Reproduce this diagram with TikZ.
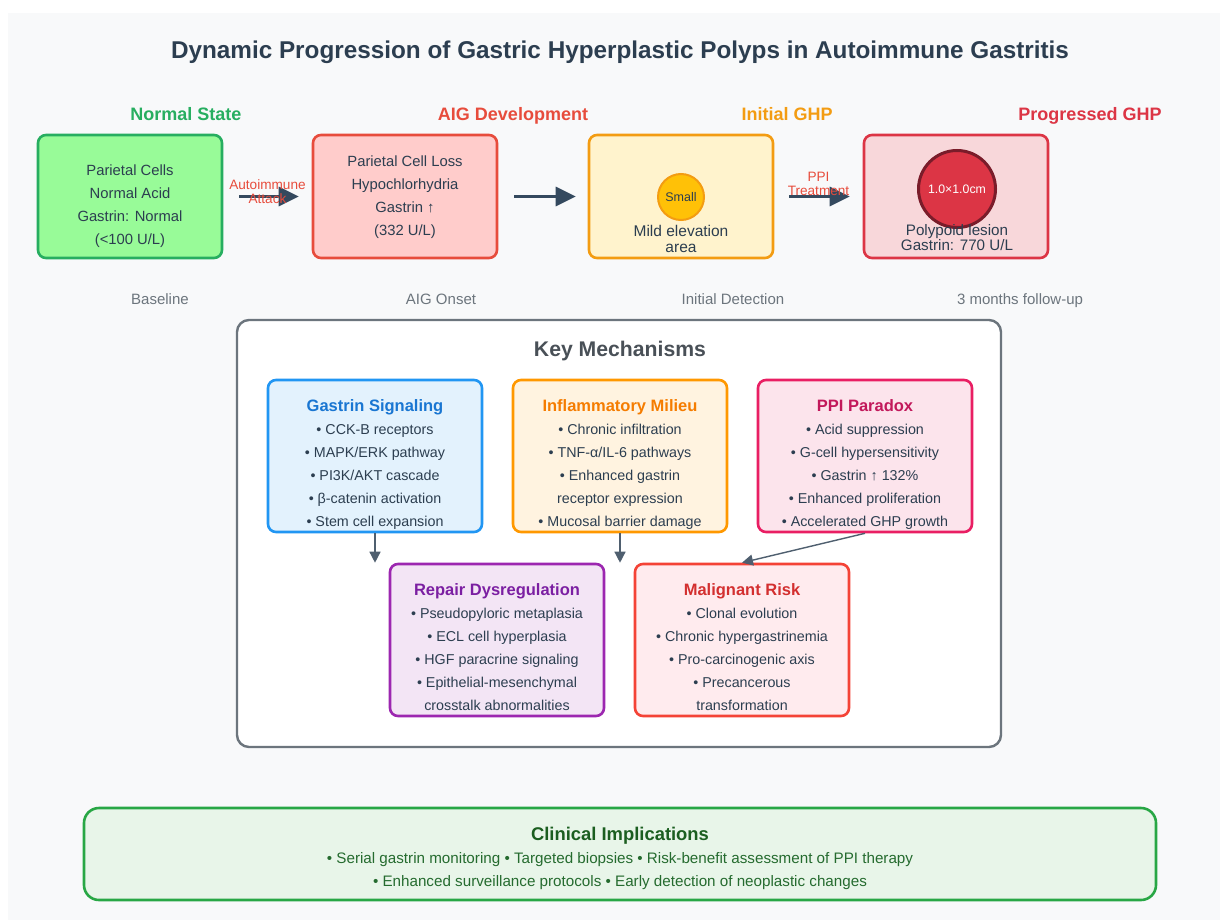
\documentclass[tikz,border=0pt]{standalone}
\usepackage{fontspec}
\setmainfont{Liberation Sans}
\usetikzlibrary{arrows.meta,positioning}

\newcommand{\mechtitlefont}{\fontsize{16.5}{23}\selectfont\bfseries}

\begin{document}
\begin{tikzpicture}[x=1pt,y=-1pt,
    stagebox/.style={draw, rounded corners=8pt, line width=2.6pt, minimum width=184pt, minimum height=123pt},
    stagehead/.style={anchor=base, font=\fontsize{18}{20}\selectfont\bfseries},
    stagetext/.style={align=center, text=textdark, font=\fontsize{14.8}{23}\selectfont},
    stagesub/.style={anchor=base, text=subgray, font=\fontsize{15}{17}\selectfont},
    stagearrow/.style={draw=arrowdark, line width=3pt, -{Triangle[length=20pt,width=19pt]}},
    arrowlabel/.style={align=center, text=labelred, font=\fontsize{13.6}{14}\selectfont},
    mechbox/.style={draw, rounded corners=8pt, line width=2.6pt, minimum width=214pt, minimum height=152pt},
    mechtext/.style={align=center, text=textdark, font=\fontsize{14.3}{23}\selectfont},
    mecharrow/.style={draw=arrowgray, line width=1.4pt, -{Triangle[length=11pt,width=11pt]}}
  ]
    % Define colors
    \definecolor{bggray}{HTML}{F8F9FA}
    \definecolor{textdark}{HTML}{2C3E50}
    \definecolor{subgray}{HTML}{6C757D}
    \definecolor{arrowdark}{HTML}{34495E}
    \definecolor{arrowgray}{HTML}{4F5F6F}
    \definecolor{labelred}{HTML}{E74C3C}
    \definecolor{normalfill}{HTML}{98FB98}
    \definecolor{normalline}{HTML}{27AE60}
    \definecolor{aigfill}{HTML}{FFCCCB}
    \definecolor{aigline}{HTML}{E74C3C}
    \definecolor{initfill}{HTML}{FFF3CD}
    \definecolor{initline}{HTML}{F39C12}
    \definecolor{progfill}{HTML}{F8D7DA}
    \definecolor{progline}{HTML}{DC3545}
    \definecolor{polypdark}{HTML}{7A1C2A}
    \definecolor{polypyellow}{HTML}{FFC107}
    \definecolor{panelline}{HTML}{6C757D}
    \definecolor{paneltitle}{HTML}{495057}
    \definecolor{gsfill}{HTML}{E3F2FD}
    \definecolor{gsline}{HTML}{2196F3}
    \definecolor{gstitle}{HTML}{1976D2}
    \definecolor{inffill}{HTML}{FFF3E0}
    \definecolor{infline}{HTML}{FF9800}
    \definecolor{inftitle}{HTML}{F57C00}
    \definecolor{ppifill}{HTML}{FCE4EC}
    \definecolor{ppiline}{HTML}{E91E63}
    \definecolor{ppititle}{HTML}{C2185B}
    \definecolor{repfill}{HTML}{F3E5F5}
    \definecolor{repline}{HTML}{9C27B0}
    \definecolor{reptitle}{HTML}{7B1FA2}
    \definecolor{malfill}{HTML}{FFEBEE}
    \definecolor{malline}{HTML}{F44336}
    \definecolor{maltitle}{HTML}{D32F2F}
    \definecolor{clinfill}{HTML}{E8F5E9}
    \definecolor{clinline}{HTML}{28A745}
    \definecolor{clintitle}{HTML}{1B5E20}
    \definecolor{clintext}{HTML}{256B2F}

    % Page and background
    \fill[white] (0,0) rectangle (1220,923);
    \fill[bggray] (8,13) rectangle (1220,920);
    \useasboundingbox (0,0) rectangle (1220,923);

    % Title
    \node[text=textdark, font=\fontsize{24.3}{28}\selectfont\bfseries] (title) at (620,52)
      {Dynamic Progression of Gastric Hyperplastic Polyps in Autoimmune Gastritis};

    % Stage headings
    \node[stagehead, text=normalline] (hnormal) at (186,120.5) {Normal State};
    \node[stagehead, text=aigline] (haig) at (513,120.5) {AIG Development};
    \node[stagehead, text=initline] (hinit) at (787,120.5) {Initial GHP};
    \node[stagehead, text=progline] (hprog) at (1090,120.5) {Progressed GHP};

    % Stage boxes
    \node[stagebox, draw=normalline, fill=normalfill] (normal) at (130,196.5) {};
    \node[stagebox, draw=aigline, fill=aigfill] (aig) at (405,196.5) {};
    \node[stagebox, draw=initline, fill=initfill] (init) at (681,196.5) {};
    \node[stagebox, draw=progline, fill=progfill] (prog) at (956,196.5) {};

    \node[stagetext] (normaltxt) at (130,206)
      {Parietal Cells\\Normal Acid\\Gastrin: Normal\\(<100 U/L)};
    \node[stagetext] (aigtxt) at (405,197)
      {Parietal Cell Loss\\Hypochlorhydria\\Gastrin ↑\\(332 U/L)};

    \node[circle, draw=initline, fill=polypyellow, line width=2pt, minimum size=46pt,
          inner sep=0pt, font=\fontsize{12.5}{13}\selectfont, text=textdark] (smallgp) at (681,197) {Small};
    \node[align=center, text=textdark, font=\fontsize{15.5}{16}\selectfont] (inittxt) at (681,238.5)
      {Mild elevation\\area};

    \node[circle, draw=polypdark, fill=progline, line width=3pt, minimum size=77pt,
          inner sep=0pt, font=\fontsize{12.3}{13}\selectfont, text=white] (lesion) at (957,189) {1.0×1.0cm};
    \node[align=center, text=textdark, font=\fontsize{15.2}{15}\selectfont] (progtxt) at (957,238)
      {Polypoid lesion\\Gastrin: 770 U/L};

    % Stage arrows
    \draw[stagearrow, shorten <=16pt, shorten >=13pt] (normal) -- (aig)
      node[midway, arrowlabel, yshift=5pt] (autolbl) {Autoimmune\\Attack};
    \draw[stagearrow, shorten <=16pt, shorten >=12pt] (aig) -- (init);
    \draw[stagearrow, shorten <=15pt, shorten >=13pt] (init) -- (prog)
      node[midway, arrowlabel, yshift=13pt] (ppilbl) {PPI\\Treatment};

    % Time labels
    \node[stagesub] (tbase) at (160,304.5) {Baseline};
    \node[stagesub] (tonset) at (441,304.5) {AIG Onset};
    \node[stagesub] (tdetect) at (733,304.5) {Initial Detection};
    \node[stagesub] (tfollow) at (1020,304.5) {3 months follow-up};

    % Key mechanisms panel
    \node[draw=panelline, fill=white, rounded corners=12pt, line width=2.4pt,
          minimum width=764pt, minimum height=427pt] (panel) at (619,533.5) {};
    \node[text=paneltitle, font=\fontsize{21.2}{24}\selectfont\bfseries] (paneltitle) at (620,351) {Key Mechanisms};

    % Mechanism boxes, top row
    \node[mechbox, draw=gsline, fill=gsfill] (gastrin) at (375,456) {};
    \node[mechbox, draw=infline, fill=inffill] (inflam) at (620,456) {};
    \node[mechbox, draw=ppiline, fill=ppifill] (ppi) at (865,456) {};

    \node[mechtext] (gastrintxt) at (375,464.5)
      {{\mechtitlefont\color{gstitle}Gastrin Signaling}\\• CCK-B receptors\\• MAPK/ERK pathway\\
       • PI3K/AKT cascade\\• β-catenin activation\\• Stem cell expansion};
    \node[mechtext] (inflamtxt) at (620,464.5)
      {{\mechtitlefont\color{inftitle}Inflammatory Milieu}\\• Chronic infiltration\\• TNF-α/IL-6 pathways\\
       • Enhanced gastrin\\receptor expression\\• Mucosal barrier damage};
    \node[mechtext] (ppitxt) at (865,464.5)
      {{\mechtitlefont\color{ppititle}PPI Paradox}\\• Acid suppression\\• G-cell hypersensitivity\\
       • Gastrin ↑ 132\%\\• Enhanced proliferation\\• Accelerated GHP growth};

    % Mechanism boxes, bottom row
    \node[mechbox, draw=repline, fill=repfill] (repair) at (497,640) {};
    \node[mechbox, draw=malline, fill=malfill] (malignant) at (742,640) {};

    \node[mechtext] (repairtxt) at (497,647.5)
      {{\mechtitlefont\color{reptitle}Repair Dysregulation}\\• Pseudopyloric metaplasia\\• ECL cell hyperplasia\\
       • HGF paracrine signaling\\• Epithelial-mesenchymal\\crosstalk abnormalities};
    \node[mechtext] (malignanttxt) at (742,647.5)
      {{\mechtitlefont\color{maltitle}Malignant Risk}\\• Clonal evolution\\• Chronic hypergastrinemia\\
       • Pro-carcinogenic axis\\• Precancerous\\transformation};

    % Mechanism arrows
    \draw[mecharrow] (gastrin.south) -- (gastrin.south |- repair.north);
    \draw[mecharrow] (inflam.south) -- (inflam.south |- malignant.north);
    \draw[mecharrow] (ppi.south) -- (malignant.north);

    % Clinical implications
    \node[draw=clinline, fill=clinfill, rounded corners=15pt, line width=2.6pt,
          minimum width=1072pt, minimum height=92pt] (clinical) at (620,854) {};
    \node[align=center, text=clintext, font=\fontsize{15.2}{23}\selectfont] (clinicaltxt) at (620,858)
      {{\fontsize{18.4}{23}\selectfont\bfseries\color{clintitle}Clinical Implications}\\
       • Serial gastrin monitoring • Targeted biopsies • Risk-benefit assessment of PPI therapy\\
       • Enhanced surveillance protocols • Early detection of neoplastic changes};
\end{tikzpicture}
\end{document}
